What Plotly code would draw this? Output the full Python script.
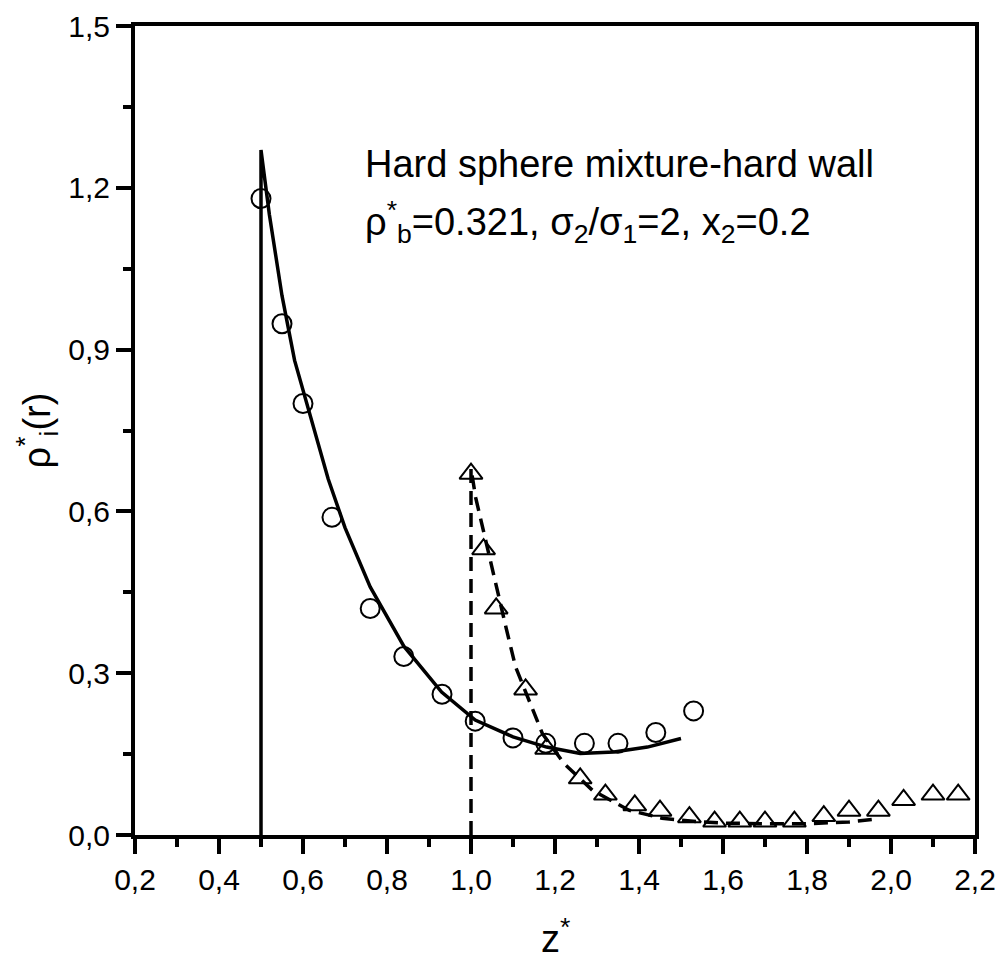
import plotly.graph_objects as go

# simulation points, component 1 (circles)
x_c = [0.50, 0.55, 0.60, 0.669, 0.76, 0.84, 0.931, 1.01, 1.10, 1.178, 1.27, 1.35, 1.44, 1.53]
y_c = [1.18, 0.948, 0.80, 0.589, 0.42, 0.331, 0.261, 0.211, 0.18, 0.17, 0.17, 0.17, 0.19, 0.23]

# simulation points, component 2 (triangles)
x_t = [1.0, 1.03, 1.06, 1.13, 1.18, 1.26, 1.32, 1.39, 1.45, 1.52, 1.58, 1.64, 1.70, 1.77,
       1.84, 1.90, 1.97, 2.03, 2.10, 2.16]
y_t = [0.67, 0.53, 0.42, 0.27, 0.16, 0.105, 0.075, 0.055, 0.045, 0.033, 0.025, 0.025, 0.025, 0.025,
       0.035, 0.045, 0.045, 0.065, 0.075, 0.075]

# theory, component 1 (solid)
x_s = [0.5, 0.5, 0.52, 0.55, 0.58, 0.62, 0.66, 0.70, 0.76, 0.84, 0.93, 1.01, 1.10, 1.18,
       1.26, 1.34, 1.42, 1.50]
y_s = [0.0, 1.27, 1.15, 1.0, 0.88, 0.77, 0.66, 0.57, 0.46, 0.35, 0.265, 0.213, 0.182, 0.163,
       0.151, 0.154, 0.163, 0.179]

# theory, component 2 (dashed)
x_d = [1.0, 1.0, 1.011, 1.035, 1.059, 1.083, 1.106, 1.138, 1.17, 1.221, 1.289, 1.376, 1.455,
       1.536, 1.607, 1.70, 1.80, 1.90, 1.97]
y_d = [0.0, 0.68, 0.626, 0.546, 0.46, 0.386, 0.312, 0.25, 0.188, 0.133, 0.083, 0.046, 0.031,
       0.025, 0.022, 0.021, 0.021, 0.024, 0.03]

FONT = "Arial, Liberation Sans, sans-serif"

fig = go.Figure()
fig.add_trace(go.Scatter(x=x_s, y=y_s, mode="lines",
                         line=dict(color="black", width=3.5), showlegend=False))
fig.add_trace(go.Scatter(x=x_d, y=y_d, mode="lines",
                         line=dict(color="black", width=3.5, dash="14px,8px"), showlegend=False))
fig.add_trace(go.Scatter(x=x_c, y=y_c, mode="markers",
                         marker=dict(symbol="circle-open", size=19, color="black",
                                     line=dict(width=2, color="black")), showlegend=False))
fig.add_trace(go.Scatter(x=x_t, y=y_t, mode="markers",
                         marker=dict(symbol="triangle-up-open", size=20, color="black",
                                     line=dict(width=2, color="black")), showlegend=False))

fig.add_annotation(x=0.743, y=1.244, xref="x", yref="y", xanchor="left", yanchor="middle",
                   text="Hard sphere mixture-hard wall", showarrow=False,
                   font=dict(family=FONT, size=38, color="black"))
fig.add_annotation(x=0.743, y=1.136, xref="x", yref="y", xanchor="left", yanchor="middle",
                   text="ρ<sup>*</sup><sub>b</sub>=0.321, σ<sub>2</sub>/σ<sub>1</sub>=2, x<sub>2</sub>=0.2",
                   showarrow=False, font=dict(family=FONT, size=38, color="black"))
# x-axis title
fig.add_annotation(x=0.5, y=-0.157, xref="paper", yref="paper", xanchor="center", yanchor="bottom",
                   text="z<sup>*</sup>", showarrow=False,
                   font=dict(family=FONT, size=38, color="black"))

fig.update_layout(
    width=1001, height=963,
    margin=dict(l=135, r=26, t=26, b=128),
    plot_bgcolor="white", paper_bgcolor="white",
    separators=", ",
    font=dict(family=FONT, color="black"),
    xaxis=dict(range=[0.2, 2.2], tick0=0.2, dtick=0.2, tickformat=".1f", automargin=False,
               showgrid=False, zeroline=False, showline=True, linewidth=4, linecolor="black",
               mirror=True, ticks="outside", ticklen=15, tickwidth=4, tickcolor="black",
               minor=dict(ticks="outside", ticklen=8, tickwidth=4, dtick=0.1, tick0=0.2,
                          tickcolor="black", showgrid=False),
               tickfont=dict(size=30, family=FONT)),
    yaxis=dict(range=[0, 1.5], tick0=0, dtick=0.3, tickformat=".1f", automargin=False,
               showgrid=False, zeroline=False, showline=True, linewidth=4, linecolor="black",
               mirror=True, ticks="outside", ticklen=15, tickwidth=4, tickcolor="black",
               minor=dict(ticks="outside", ticklen=8, tickwidth=4, dtick=0.15, tick0=0,
                          tickcolor="black", showgrid=False),
               tickfont=dict(size=30, family=FONT),
               title=dict(text="ρ<sup>*</sup><sub>i</sub>(r)", font=dict(size=38, family=FONT),
                          standoff=7)),
)

fig.write_html("out.html")
